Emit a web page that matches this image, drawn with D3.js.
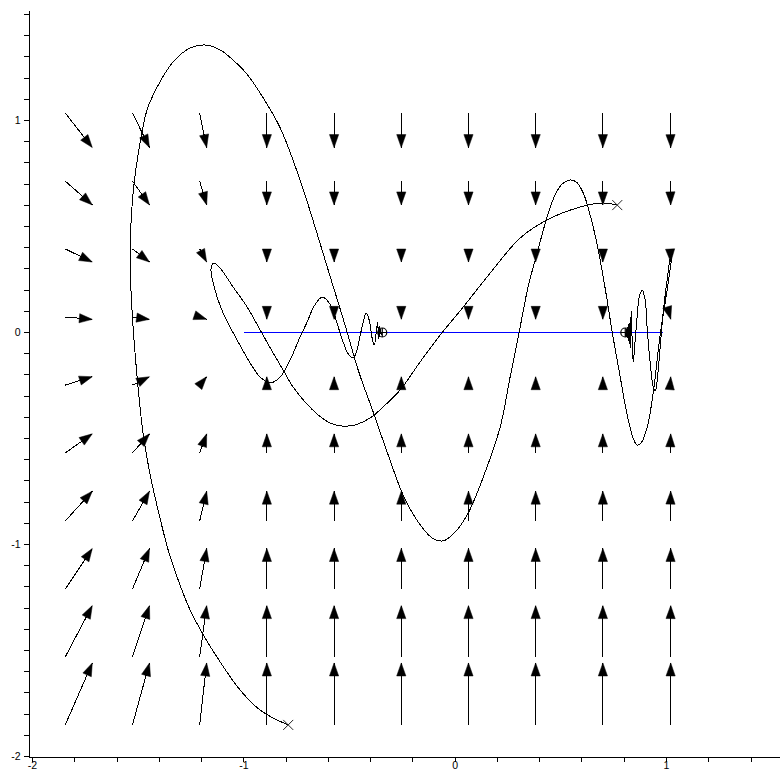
<!DOCTYPE html>
<html><head><meta charset="utf-8">
<script src="https://cdn.jsdelivr.net/npm/d3@7"></script>
<style>body{margin:0;background:#fff}svg{display:block}</style>
</head><body>
<svg id="c" width="780" height="780"></svg>
<script>
// ---- vector field grid (tails of arrows) ----
const gridX = [-1.845, -1.527, -1.209, -0.891, -0.573, -0.255, 0.063, 0.381, 0.699, 1.017];
const gridY = [-1.851, -1.530, -1.210, -0.889, -0.568, -0.248, 0.073, 0.394, 0.714, 1.035];
// horizontal component per column, vertical component per row
const fieldU = [0.81, 0.51, 0.21, 0, 0, 0, 0, 0, 0, 0.02];
const fieldV = [1.85, 1.53, 1.21, 0.89, 0.57, 0.25, -0.07, -0.39, -0.71, -1.03];

// ---- trajectory A (starts at circle-plus right, ends at cross bottom-left) ----
const trajAx = [0.805,0.809,0.814,0.819,0.823,0.828,0.833,0.842,0.852,0.861,0.871,0.885,0.899,0.909,0.923,0.937,0.947,0.956,0.970,0.984,1.003,1.018,1.027,1.022,1.003,0.970,0.937,0.909,0.880,0.861,0.842,0.814,0.781,0.743,0.719,0.686,0.653,0.606,0.573,0.540,0.506,0.473,0.435,0.388,0.345,0.303,0.260,0.213,0.133,0.062,0.000,-0.057,-0.109,-0.175,-0.246,-0.317,-0.388,-0.459,-0.521,-0.582,-0.644,-0.734,-0.828,-0.923,-0.994,-1.051,-1.112,-1.183,-1.254,-1.335,-1.410,-1.458,-1.491,-1.524,-1.538,-1.529,-1.505,-1.477,-1.443,-1.406,-1.358,-1.311,-1.254,-1.183,-1.112,-1.018,-0.923,-0.842,-0.790];
const trajAy = [-0.002,-0.021,0.026,-0.040,0.050,-0.073,0.101,-0.139,-0.035,0.073,0.167,0.200,0.153,0.012,-0.144,-0.257,-0.276,-0.224,-0.068,0.092,0.248,0.351,0.375,0.333,0.200,-0.012,-0.285,-0.446,-0.521,-0.531,-0.498,-0.389,-0.210,0.002,0.153,0.342,0.498,0.658,0.710,0.719,0.700,0.649,0.545,0.375,0.215,0.002,-0.210,-0.446,-0.682,-0.851,-0.941,-0.983,-0.969,-0.894,-0.767,-0.578,-0.375,-0.177,0.035,0.233,0.436,0.719,0.965,1.130,1.229,1.285,1.333,1.356,1.342,1.276,1.158,1.050,0.894,0.658,0.342,0.106,-0.210,-0.474,-0.672,-0.837,-1.026,-1.167,-1.309,-1.441,-1.554,-1.686,-1.781,-1.828,-1.851];

// ---- trajectory B (starts at circle-plus middle, ends at cross top-right) ----
const trajBx = [-0.345,-0.350,-0.355,-0.357,-0.360,-0.364,-0.367,-0.383,-0.393,-0.407,-0.421,-0.435,-0.454,-0.469,-0.483,-0.506,-0.530,-0.558,-0.587,-0.629,-0.667,-0.700,-0.734,-0.781,-0.828,-0.876,-0.923,-0.970,-1.032,-1.098,-1.145,-1.155,-1.141,-1.112,-1.051,-0.984,-0.923,-0.861,-0.814,-0.767,-0.710,-0.648,-0.592,-0.535,-0.473,-0.402,-0.331,-0.260,-0.166,-0.071,0.038,0.151,0.308,0.435,0.592,0.700,0.767];
const trajBy = [0.002,-0.012,0.017,-0.021,0.035,-0.031,0.050,-0.059,-0.026,0.059,0.092,0.050,-0.035,-0.097,-0.120,-0.101,-0.045,0.040,0.125,0.167,0.125,0.050,-0.021,-0.130,-0.210,-0.238,-0.210,-0.144,-0.035,0.092,0.233,0.304,0.328,0.304,0.215,0.120,0.012,-0.097,-0.177,-0.257,-0.328,-0.389,-0.427,-0.441,-0.436,-0.403,-0.342,-0.271,-0.139,-0.012,0.120,0.262,0.446,0.531,0.592,0.611,0.601];

// ---- markers and blue segment ----
const startMarkers = [[0.805, 0.0], [-0.345, 0.0]];
const endMarkers = [[-0.790, -1.851], [0.767, 0.601]];
const blueSegX = [-1.0, 0.985];
const blueSegY = [0, 0];

// ---- axes ----
const xTickLabels = {"-2": "-2", "-1": "-1", "0": "0", "1": "1"};
const yTickLabels = {"-2": "-2", "-1": "-1", "0": "0", "1": "1"};
const xAxisExtent = [-2.0142, 1.5398];
const yAxisExtent = [-2.0047, 1.5165];

const svg = d3.select("#c");
const x = d3.scaleLinear().domain([-2, 1]).range([32.5, 666.5]);
const y = d3.scaleLinear().domain([-2, 1]).range([756.5, 120.5]);

const xa = x.copy().domain(xAxisExtent).range(xAxisExtent.map(x));
const ya = y.copy().domain(yAxisExtent).range(yAxisExtent.map(y));

const xTickVals = d3.range(-10, 8).map(i => i / 5);
const yTickVals = d3.range(-20, 16).map(i => i / 10);
const fmt = (labels) => d => { const r = Math.round(d); return Math.abs(d - r) < 1e-6 && labels[String(r)] !== undefined ? labels[String(r)] : ""; };

const gx = svg.append("g").attr("transform", `translate(0,${ya(yAxisExtent[0])})`)
  .call(d3.axisBottom(xa).tickValues(xTickVals).tickSize(5).tickSizeOuter(0).tickPadding(-1).offset(0).tickFormat(fmt(xTickLabels)));
const gy = svg.append("g").attr("transform", `translate(${xa(xAxisExtent[0])},0)`)
  .call(d3.axisLeft(ya).tickValues(yTickVals).tickSize(5).tickSizeOuter(0).tickPadding(4).offset(0).tickFormat(fmt(yTickLabels)));
[gx, gy].forEach(g => {
  g.attr("font-family", "'Liberation Sans', Arial, sans-serif").attr("font-size", 10.5);
  g.selectAll("path,line").attr("stroke", "#000").attr("shape-rendering", "crispEdges");
  g.selectAll("text").attr("fill", "#000");
});

// ---- vector field ----
const k = 0.158, headL = 13, headW = 4.6;
const field = svg.append("g");
gridY.forEach((gyv, j) => gridX.forEach((gxv, i) => {
  const x0 = x(gxv), y0 = y(gyv);
  const x1 = x(gxv + k * fieldU[i]), y1 = y(gyv + k * fieldV[j]);
  const dx = x1 - x0, dy = y1 - y0, len = Math.hypot(dx, dy);
  if (len < 1e-9) return;
  const ux = dx / len, uy = dy / len;
  const bx = x1 - ux * headL, by = y1 - uy * headL;
  field.append("line").attr("x1", x0).attr("y1", y0).attr("x2", x1).attr("y2", y1)
    .attr("stroke", "#000").attr("stroke-width", 1).attr("shape-rendering", "crispEdges");
  field.append("path")
    .attr("d", `M${x1},${y1}L${bx - uy * headW},${by + ux * headW}L${bx + uy * headW},${by - ux * headW}Z`)
    .attr("fill", "#000").attr("stroke", "#000").attr("stroke-width", 0.5);
}));

// ---- blue segment ----
svg.append("line").attr("x1", x(blueSegX[0])).attr("x2", x(blueSegX[1]))
  .attr("y1", y(blueSegY[0])).attr("y2", y(blueSegY[1]))
  .attr("stroke", "#0000ff").attr("stroke-width", 1).attr("shape-rendering", "crispEdges");

// ---- trajectories ----
const line = d3.line().x(d => x(d[0])).y(d => y(d[1])).curve(d3.curveCatmullRom.alpha(0.5));
[[trajAx, trajAy], [trajBx, trajBy]].forEach(([xs, ys]) => {
  svg.append("path").attr("d", line(xs.map((v, i) => [v, ys[i]])))
    .attr("fill", "none").attr("stroke", "#000").attr("stroke-width", 1)
    .attr("shape-rendering", "crispEdges");
});

// ---- markers ----
startMarkers.forEach(([mx, my]) => {
  const cx = x(mx), cy = y(my), r = 4.5;
  svg.append("circle").attr("cx", cx).attr("cy", cy).attr("r", r)
    .attr("fill", "none").attr("stroke", "#000").attr("stroke-width", 1.2);
  svg.append("path").attr("d", `M${cx - r},${cy}H${cx + r}M${cx},${cy - r}V${cy + r}`)
    .attr("stroke", "#000").attr("stroke-width", 1.2);
});
endMarkers.forEach(([mx, my]) => {
  const cx = x(mx), cy = y(my), s = 5;
  svg.append("path").attr("d", `M${cx - s},${cy - s}L${cx + s},${cy + s}M${cx - s},${cy + s}L${cx + s},${cy - s}`)
    .attr("stroke", "#222").attr("stroke-width", 1);
});
</script>
</body></html>
